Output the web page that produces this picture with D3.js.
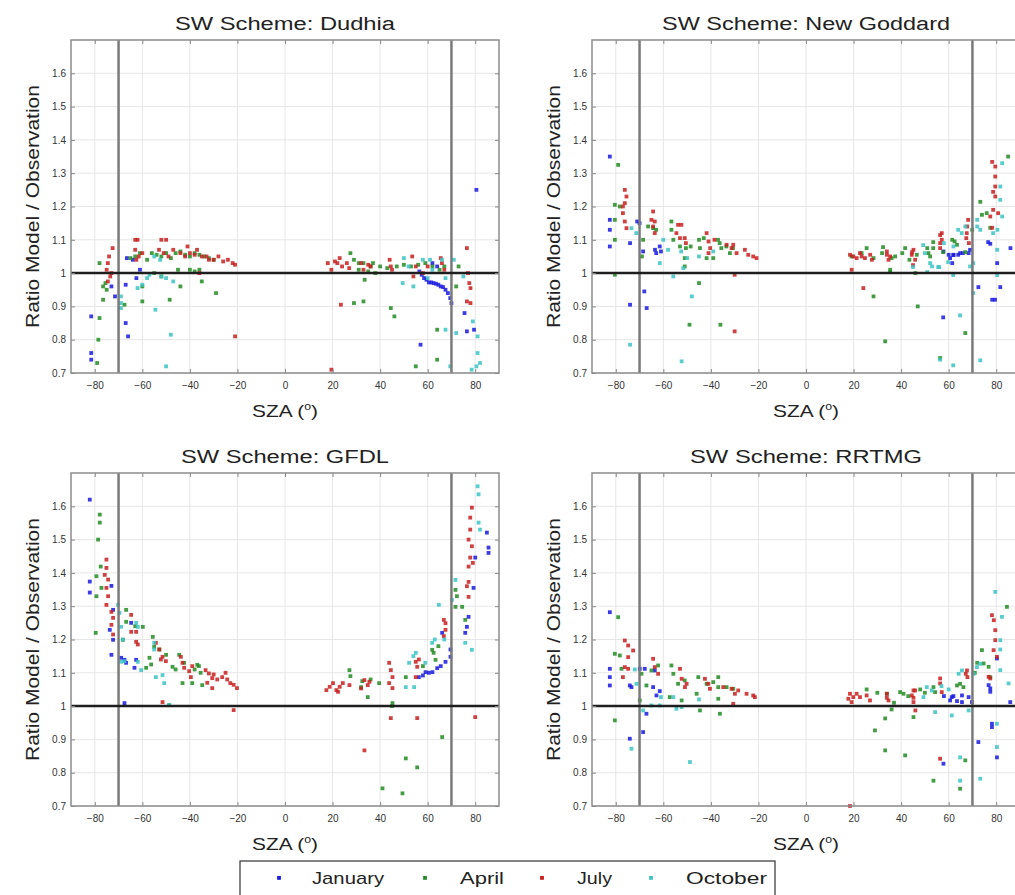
<!DOCTYPE html>
<html>
<head>
<meta charset="utf-8">
<script src="https://cdn.jsdelivr.net/npm/d3@7"></script>
<style>
  body { margin: 0; background: #fff; }
  svg { display: block; overflow: hidden; }
  svg text { font-family: "Liberation Sans", Arial, sans-serif; fill: #222; }
  .tick text { fill: #333; font-size: 10px; }
  .tick line { stroke: #888; }
</style>
</head>
<body>
<svg id="chart" width="1015" height="895"></svg>
<script>
// Months and axis ticks
const months = ["January", "April", "July", "October"];
const xTicks = [-80, -60, -40, -20, 0, 20, 40, 60, 80];
const yTicks = [0.7, 0.8, 0.9, 1, 1.1, 1.2, 1.3, 1.4, 1.5, 1.6];
const szaLimits = [-70, 70];

// [SZA, ratio model / observation]
const dudhiaJan = [[-81.5,0.87],[-81.5,0.76],[-81.5,0.74],[-73,0.96],[-71.5,0.93],[-67,0.965],[-67,0.85],[-66,0.81],[-62.5,0.985],[-61,1.01],[-66.5,1.045],[-64,1.04],[56.5,1.005],[57.5,0.995],[58.5,0.985],[59.5,0.98],[60.5,0.972],[61.5,0.972],[62.5,0.97],[63.5,0.968],[64.5,0.965],[65.5,0.96],[66.5,0.958],[67.5,0.95],[68.5,0.94],[69.5,0.925],[70,0.91],[57,0.785],[75.5,0.88],[76.5,0.825],[79.5,0.83],[80.5,1.25],[64,1.02],[62,1.03]];
const dudhiaApr = [[-79,0.73],[-78,0.865],[-78.5,0.8],[-76.5,0.96],[-76.5,0.92],[-78,1.03],[-75.5,0.97],[-75,0.95],[-67.5,0.905],[-60,0.915],[-60,0.96],[-65,1.045],[-63,1.05],[-61,1.06],[-58,1.04],[-56,1.06],[-54,1.055],[-52,1.05],[-50,1.06],[-48,1.045],[-46,1.06],[-44,1.065],[-42,1.055],[-40,1.05],[-38,1.06],[-36,1.055],[-34,1.05],[-32,1.045],[-30,1.04],[-44,0.96],[-35,0.975],[-29,0.94],[-48.5,0.92],[-45,1.01],[-40,1.01],[-38,1.005],[-36,1.01],[-55,1.0],[-52,0.99],[27.5,1.06],[31,1.01],[33.5,0.98],[33,0.915],[44.5,0.895],[46,0.87],[29,1.04],[33,1.03],[36,1.02],[40,1.02],[43,1.015],[47,1.02],[50,1.025],[53,1.02],[56,1.025],[59,1.03],[62,1.02],[65,1.01],[67,1.02],[55,0.72],[64,0.83],[64,0.74],[72,0.96],[73,1.02],[37,1.03],[31,1.03],[35,1.005],[38,1.0],[29,0.91]];
const dudhiaJul = [[-72.5,1.075],[-74,1.05],[-74.5,1.03],[-73,1.0],[-74.5,0.975],[-73.5,0.99],[-75,1.01],[-63,1.1],[-62,1.1],[-63,1.07],[-61.5,1.05],[-60,1.06],[-62.5,1.04],[-53,1.07],[-52,1.1],[-50,1.1],[-51,1.06],[-49,1.05],[-41,1.08],[-40,1.06],[-38,1.055],[-37,1.07],[-35,1.05],[-33,1.05],[-32,1.04],[-30,1.04],[-28,1.05],[-26,1.035],[-24,1.04],[-22,1.03],[-21,1.025],[-44,1.06],[-42,1.05],[-47,1.07],[-21,0.81],[-36,1.0],[18,1.03],[19.5,1.01],[21,1.035],[22,1.03],[23,1.045],[24,1.02],[26,1.03],[27,1.015],[32,1.03],[33,1.01],[35,1.025],[36,1.02],[44,1.04],[44.5,1.02],[45,1.01],[53.5,1.05],[54,0.99],[55,1.02],[65.5,1.045],[66,1.03],[67,1.01],[76.5,1.075],[77,1.0],[77.5,0.97],[78,0.955],[76.5,0.915],[78,0.91],[19.5,0.71],[23.5,0.905],[58,1.0],[60,1.02]];
const dudhiaOct = [[-69,0.91],[-69,0.93],[-69,0.895],[-54.5,0.89],[-48,0.815],[-50,0.72],[-58,0.985],[-57,0.995],[-52,0.99],[-50,0.985],[-47,0.975],[-60,0.965],[-62,0.955],[-55,1.05],[-52.5,1.04],[50,1.045],[52,1.02],[54,0.96],[49.5,0.97],[58,1.04],[60,0.985],[61,1.04],[67.5,0.985],[69.5,0.72],[71,1.04],[78.5,0.71],[80.5,0.72],[79,0.855],[81,0.81],[81,0.76],[82,0.73],[67.5,0.83],[72,0.82],[62,1.01],[66,1.04],[75,0.99]];

const goddardJan = [[-82.5,1.35],[-82.5,1.16],[-82.5,1.13],[-82.5,1.08],[-74,1.09],[-74,0.905],[-68,0.945],[-67,0.895],[-68.5,1.065],[-63.5,1.07],[-61.5,1.08],[-61,1.065],[-63,1.06],[-71,1.155],[-70,1.15],[57.8,1.065],[60,1.055],[62,1.055],[64,1.055],[66,1.06],[68.4,1.06],[60.6,1.045],[62,1.054],[64.8,1.06],[69,1.07],[61.5,1.03],[57.7,0.867],[72.5,0.958],[76.6,1.093],[77.5,1.088],[78.3,0.92],[79.5,0.92],[80.4,1.03],[81.7,0.958],[86,1.075]];
const goddardApr = [[-79,1.325],[-80.4,1.205],[-78.3,1.2],[-80.4,1.16],[-80.4,1.1],[-80.4,0.995],[-68.5,1.1],[-69,1.05],[-66.4,1.14],[-64.3,1.135],[-63,1.13],[-56.6,1.155],[-56.6,1.13],[-55.8,1.1],[-53,1.08],[-51,1.045],[-50.5,1.075],[-48.5,1.08],[-45,1.1],[-44.6,1.075],[-43,1.105],[-41.8,1.045],[-39,1.045],[-37,1.1],[-36.3,1.09],[-35.6,1.075],[-33.5,1.08],[-32,1.06],[-30.7,1.075],[-45,0.97],[-49,0.845],[-36,0.845],[-51,1.02],[19.2,1.05],[23.4,1.06],[25.5,1.075],[28.4,1.045],[32,1.06],[36,1.045],[35.4,1.01],[37.5,1.05],[40.5,1.06],[41.7,1.075],[43.5,1.04],[46.6,1.055],[28.4,0.93],[33.3,0.795],[47,0.9],[46,1.0],[56.4,0.745],[51.5,1.06],[53.5,1.075],[32.4,1.078],[51,1.075],[52.2,1.05],[53.5,1.093],[61.5,1.1],[62.5,1.095],[63.5,1.085],[69.9,1.13],[73.3,1.214],[74,1.175],[76,1.18],[77.5,1.136],[85,1.35],[67,0.82],[35.4,1.003],[57.7,1.063],[67,1.063]];
const goddardJul = [[-76.2,1.25],[-75.5,1.23],[-76.2,1.21],[-77,1.18],[-76.2,1.155],[-75.5,1.135],[-77,1.2],[-64.3,1.185],[-65,1.16],[-64.3,1.14],[-63.6,1.12],[-63.6,1.155],[-53.8,1.145],[-52.4,1.145],[-54.5,1.12],[-53,1.105],[-51,1.105],[-50.5,1.09],[-41.8,1.12],[-41,1.095],[-40.3,1.075],[-41,1.06],[-38.5,1.1],[-33.4,1.085],[-31.3,1.075],[-30.6,1.085],[-29.2,1.06],[-25.7,1.07],[-24.3,1.055],[-22.2,1.05],[-20.8,1.045],[-30,0.995],[-30,0.825],[18.5,1.055],[19.2,1.01],[19.9,1.05],[21.3,1.045],[22.7,1.06],[23.4,1.05],[24.8,1.045],[27,1.055],[27.7,1.04],[34,1.055],[34.7,1.04],[35.4,1.05],[44.5,1.055],[45.2,1.07],[45.9,1.04],[56.4,1.075],[57.1,1.12],[57.1,1.1],[24.1,0.955],[56.4,1.114],[56.4,1.09],[68.2,1.16],[67.8,1.14],[67.6,1.12],[67.4,1.105],[68.5,1.09],[78.3,1.334],[79.6,1.32],[79.6,1.29],[79.6,1.26],[78.7,1.244],[79.6,1.23],[78.7,1.19],[77.5,1.17],[80.8,1.18],[78.3,1.136],[44.6,1.063],[45,1.024],[34,1.065]];
const goddardOct = [[-74,0.785],[-73.4,1.135],[-71.4,1.12],[-61.5,1.03],[-55.8,0.99],[-51.6,1.015],[-48,0.93],[-52.3,0.735],[-50,1.045],[-39,1.065],[-52.5,1.065],[-45,1.05],[-58,1.07],[-60,1.1],[49.3,1.084],[50,1.06],[52.2,1.03],[55.6,1.018],[51,1.003],[59.8,1.033],[61.9,0.994],[64,1.13],[65.5,1.12],[67,1.14],[72,1.14],[73.3,1.13],[72,1.16],[70.3,1.03],[69,1.02],[82.5,1.33],[81.7,1.26],[81.7,1.22],[82.5,1.17],[80.5,1.13],[78.7,1.12],[80.4,1.07],[80.4,0.994],[64.8,0.873],[61.9,0.723],[73.3,0.738],[70.3,0.94],[45,1.018],[56,1.018],[56.4,0.74],[53,1.02],[58,1.09],[62,1.08]];

const gfdlJan = [[-82.1,1.62],[-82.1,1.374],[-82.1,1.341],[-73,1.361],[-73.7,1.229],[-72.3,1.199],[-73,1.154],[-68.9,1.145],[-67.5,1.139],[-66.8,1.13],[-62.6,1.139],[-63.3,1.115],[-67.5,1.009],[-64.7,1.25],[-72.3,1.289],[59.1,1.102],[60.5,1.1],[62,1.102],[64,1.114],[65.5,1.12],[67.5,1.133],[69.6,1.148],[69.6,1.17],[66.1,1.22],[84.9,1.521],[85.6,1.476],[85.6,1.46],[79.3,1.355],[80,1.446],[77.2,1.268],[76.5,1.238],[75.8,1.22],[56.3,1.087],[58,1.092]];
const gfdlApr = [[-77.9,1.575],[-77.9,1.551],[-78.6,1.5],[-77.5,1.419],[-79.3,1.39],[-77.2,1.355],[-79.3,1.33],[-79.6,1.22],[-66.8,1.289],[-66.8,1.253],[-68.2,1.199],[-63,1.24],[-59.8,1.238],[-55.6,1.208],[-55,1.178],[-52.8,1.17],[-57,1.145],[-56.3,1.125],[-50,1.154],[-47.3,1.118],[-46,1.11],[-44.5,1.154],[-42.4,1.13],[-43.1,1.069],[-39,1.069],[-36.9,1.124],[-36.2,1.12],[-35.5,1.1],[-34.8,1.063],[-38,1.11],[-48.7,1.003],[-58.4,1.115],[27.1,1.108],[27.5,1.09],[32,1.057],[32.5,1.075],[39.6,1.069],[34.8,1.027],[45.2,1.009],[50.8,1.087],[61.9,1.169],[62.5,1.16],[63.3,1.139],[64.5,1.18],[71.7,1.349],[72.3,1.33],[71.7,1.298],[74.5,1.298],[75.8,1.259],[66.1,0.907],[50.8,0.843],[55.6,0.816],[41,0.753],[49.4,0.738],[45,1.0],[36,1.08],[58,1.12]];
const gfdlJul = [[-75.1,1.44],[-75.1,1.415],[-75.8,1.394],[-74.4,1.38],[-75.1,1.355],[-74.4,1.33],[-75.1,1.304],[-73,1.283],[-72.3,1.265],[-73,1.244],[-72.3,1.215],[-64.7,1.274],[-64.7,1.223],[-62.6,1.223],[-62.6,1.193],[-61.9,1.185],[-54.3,1.19],[-52.9,1.17],[-51.5,1.148],[-50.1,1.135],[-52.2,1.14],[-43.8,1.148],[-43.1,1.13],[-42.4,1.115],[-40.3,1.105],[-39.6,1.087],[-39,1.12],[-33.4,1.108],[-32,1.098],[-30.6,1.084],[-30,1.095],[-28.5,1.08],[-26.4,1.087],[-25,1.1],[-24.3,1.08],[-23,1.069],[-21.6,1.064],[-20.2,1.054],[-51.5,1.012],[-21.6,0.988],[-30.6,1.054],[-32.7,1.07],[18.8,1.058],[20.2,1.069],[21.6,1.048],[23,1.058],[22.3,1.043],[17.4,1.048],[24.3,1.069],[27.1,1.063],[33.4,1.078],[34.8,1.063],[32,1.053],[35.5,1.073],[43.8,1.13],[44.5,1.108],[45.2,1.087],[43.8,1.069],[45.2,1.054],[55,1.133],[55.6,1.118],[55,1.087],[56.3,1.14],[66.8,1.259],[67.5,1.249],[67.5,1.229],[66.8,1.21],[77.9,1.566],[78.6,1.596],[77.2,1.5],[78.6,1.48],[77.9,1.446],[77.2,1.419],[79,1.43],[77.2,1.373],[76.5,1.36],[77.2,1.328],[77.9,1.53],[80,0.967],[44.5,0.964],[55.6,0.964],[33.4,0.867]];
const gfdlOct = [[-70.2,1.304],[-69.6,1.28],[-68.9,1.238],[-62.6,1.25],[-61.9,1.238],[-68.2,1.2],[-68.9,1.133],[-67.5,1.135],[-61.9,1.133],[-60.5,1.108],[-55,1.19],[-55,1.17],[-51.5,1.093],[-50.8,1.069],[-54.3,1.087],[-48.7,1.003],[81.4,1.636],[81.4,1.551],[82,1.53],[81,1.66],[71.7,1.379],[70.2,1.319],[64.7,1.304],[61.9,1.19],[63,1.2],[55,1.16],[52.2,1.13],[54,1.15],[50.8,1.057],[54.3,1.057],[75.8,1.19],[78.6,1.169],[67,1.2],[59,1.13]];

const rrtmgJan = [[-82.5,1.282],[-82.5,1.112],[-82.5,1.087],[-82.5,1.062],[-74.1,1.062],[-73.4,1.057],[-74.1,0.902],[-68.5,0.922],[-67.1,0.977],[-64.3,1.057],[-62.9,1.032],[-61.5,1.045],[-69.9,1.112],[-67.8,1.112],[-63.6,1.107],[60.6,1.017],[61.3,1.027],[63.5,1.015],[65.6,1.032],[65.6,1.012],[68.4,1.027],[69.8,1.012],[77.5,1.053],[77.5,1.043],[76.8,1.063],[80.3,1.143],[85.9,1.012],[78.2,0.947],[78.2,0.937],[72.5,0.892],[57.8,0.827],[80.3,0.846],[58,1.03],[62,1.03]];
const rrtmgApr = [[-79,1.267],[-80.4,1.157],[-78.3,1.152],[-77.6,1.112],[-80.4,0.957],[-69.2,1.097],[-67.1,1.062],[-69.9,1.017],[-65,1.107],[-62.2,1.122],[-56.6,1.122],[-55.8,1.097],[-53.8,1.067],[-52.3,1.017],[-51,1.077],[-45.3,1.087],[-46,1.037],[-44.6,0.987],[-41.8,1.067],[-39,1.072],[-36.9,1.057],[-36.9,1.022],[-36.2,0.977],[-33.4,1.057],[-30.6,1.052],[-36.9,1.087],[-57.3,1.027],[34,1.037],[39.6,1.042],[41,1.037],[45.2,0.967],[33.3,0.963],[33.3,0.867],[41.7,0.852],[53.6,1.057],[54.3,1.042],[53.6,0.776],[63.5,1.062],[64.8,1.067],[66.2,1.057],[74,1.168],[74.7,1.128],[76.8,1.118],[77.5,1.087],[84.5,1.298],[64.8,0.752],[67,0.837],[29,0.927],[37,1.01],[36,0.99],[30,1.04],[25.5,1.05],[43,1.03],[48,1.05],[50,1.04],[71,1.1],[72,1.13]];
const rrtmgJul = [[-76.2,1.197],[-74.8,1.182],[-74.8,1.147],[-76.2,1.117],[-77,1.087],[-74.8,1.112],[-72.7,1.167],[-64.3,1.142],[-63.6,1.117],[-62.2,1.097],[-53,1.112],[-52.3,1.082],[-50.2,1.067],[-50.9,1.057],[-42.5,1.082],[-41.1,1.067],[-40.4,1.052],[-34.8,1.057],[-31.3,1.052],[-29.9,1.037],[-28.5,1.047],[-25,1.037],[-22.2,1.032],[-21.5,1.027],[-30.6,1.007],[17.8,1.022],[18.5,1.037],[19.9,1.027],[19.2,1.012],[21.3,1.037],[22.7,1.027],[25.5,1.032],[26.9,1.017],[34,1.037],[34.7,1.017],[44.5,1.032],[45.2,1.012],[46,0.987],[45.9,1.047],[18.5,0.7],[34,1.025],[45.2,1.047],[56.4,1.083],[56.4,1.068],[57.1,1.042],[67.7,1.107],[67.9,1.087],[67.2,1.097],[78.2,1.273],[79,1.258],[79.6,1.228],[79.6,1.198],[78.9,1.168],[80.3,1.148],[77.5,1.083],[76.8,1.088],[56.4,0.842],[45.2,1.025]];
const rrtmgOct = [[-73.4,0.872],[-68.5,0.987],[-65,1.002],[-61.5,1.002],[-55.8,1.027],[-52.3,0.997],[-48.8,0.832],[-54.5,0.992],[-61,1.027],[-71.3,1.067],[-72,1.11],[-45,1.02],[79.6,1.343],[82.4,1.268],[81.7,1.198],[81.7,1.17],[81.7,1.108],[85.2,1.068],[65.6,1.107],[64.2,1.097],[71.9,1.117],[73.3,1.127],[70.5,1.097],[50.8,1.057],[52.9,1.047],[54.3,0.982],[49.4,1.027],[61.3,0.972],[68.4,0.987],[80.3,0.877],[64.8,0.776],[73.3,0.782],[64.8,0.846],[80.3,0.947],[57,1.06],[60,1.05]];

// Colours of the four months (January, April, July, October)
const monthColors = ["#1a1ae0", "#238c23", "#c82020", "#3cc4c4"];

const panels = [
  { title: "SW Scheme: Dudhia",      titleLen: 220, left: 71,  top: 40,  series: [dudhiaJan, dudhiaApr, dudhiaJul, dudhiaOct] },
  { title: "SW Scheme: New Goddard", titleLen: 288, left: 592, top: 40,  series: [goddardJan, goddardApr, goddardJul, goddardOct] },
  { title: "SW Scheme: GFDL",        titleLen: 208, left: 71,  top: 473, series: [gfdlJan, gfdlApr, gfdlJul, gfdlOct] },
  { title: "SW Scheme: RRTMG",       titleLen: 232, left: 592, top: 473, series: [rrtmgJan, rrtmgApr, rrtmgJul, rrtmgOct] }
];

const svg = d3.select("#chart");
const width = 428, height = 333;

panels.forEach(drawPanel);
drawLegend();

/*
  Draw one scheme panel: grid, points, reference lines, axes and labels
*/
function drawPanel(p) {
  const x = d3.scaleLinear().domain([-90, 90]).range([p.left, p.left + width]);
  const y = d3.scaleLinear().domain([0.7, 1.7]).range([p.top + height, p.top]);
  const g = svg.append("g");

  // grid
  g.append("g").selectAll("line")
    .data(xTicks).join("line")
      .attr("x1", d => x(d)).attr("x2", d => x(d))
      .attr("y1", p.top).attr("y2", p.top + height)
      .attr("stroke", "#e6e6e6");
  g.append("g").selectAll("line")
    .data(yTicks).join("line")
      .attr("x1", p.left).attr("x2", p.left + width)
      .attr("y1", d => y(d)).attr("y2", d => y(d))
      .attr("stroke", "#e6e6e6");

  // points, one group per month
  p.series.forEach(function(pts, i) {
    g.append("g").selectAll("rect")
      .data(pts).join("rect")
        .attr("x", d => x(d[0]) - 1.9)
        .attr("y", d => y(d[1]) - 1.9)
        .attr("width", 3.8)
        .attr("height", 3.8)
        .attr("fill", monthColors[i])
        .attr("opacity", 0.85);
  });

  // SZA limit lines and ratio = 1 line
  g.append("g").selectAll("line")
    .data(szaLimits).join("line")
      .attr("x1", d => x(d)).attr("x2", d => x(d))
      .attr("y1", p.top).attr("y2", p.top + height)
      .attr("stroke", "#7a7a7a").attr("stroke-width", 2.5);
  g.append("line")
    .attr("x1", p.left).attr("x2", p.left + width)
    .attr("y1", y(1)).attr("y2", y(1))
    .attr("stroke", "#1e1e1e").attr("stroke-width", 2.5);

  // axes (ticks pointing inward)
  const fmtY = d3.format("~g");
  g.append("g")
    .attr("transform", "translate(0," + (p.top + height) + ")")
    .call(d3.axisBottom(x).tickValues(xTicks).tickSize(-4).tickPadding(9))
    .call(a => a.select(".domain").remove());
  g.append("g")
    .attr("transform", "translate(0," + p.top + ")")
    .call(d3.axisTop(x).tickValues(xTicks).tickSize(-4).tickFormat(""))
    .call(a => a.select(".domain").remove());
  g.append("g")
    .attr("transform", "translate(" + p.left + ",0)")
    .call(d3.axisLeft(y).tickValues(yTicks).tickSize(-4).tickPadding(5).tickFormat(fmtY))
    .call(a => a.select(".domain").remove());
  g.append("g")
    .attr("transform", "translate(" + (p.left + width) + ",0)")
    .call(d3.axisRight(y).tickValues(yTicks).tickSize(-4).tickFormat(""))
    .call(a => a.select(".domain").remove());

  // box
  g.append("rect")
    .attr("x", p.left).attr("y", p.top)
    .attr("width", width).attr("height", height)
    .attr("fill", "none").attr("stroke", "#8c8c8c").attr("stroke-width", 1.5);

  // title
  g.append("text")
    .attr("x", p.left + width / 2).attr("y", p.top - 10)
    .attr("text-anchor", "middle")
    .attr("font-size", 18)
    .attr("textLength", p.titleLen).attr("lengthAdjust", "spacingAndGlyphs")
    .text(p.title);

  // x label
  const xl = g.append("text")
    .attr("x", p.left + width / 2).attr("y", p.top + height + 44)
    .attr("text-anchor", "middle")
    .attr("font-size", 17)
    .attr("textLength", 66).attr("lengthAdjust", "spacingAndGlyphs");
  xl.append("tspan").text("SZA (");
  xl.append("tspan").attr("font-size", 10).attr("dy", -7).text("o");
  xl.append("tspan").attr("dy", 7).text(")");

  // y label
  g.append("text")
    .attr("transform", "translate(" + (p.left - 32) + "," + (p.top + height / 2) + ") rotate(-90)")
    .attr("text-anchor", "middle")
    .attr("font-size", 18)
    .attr("textLength", 243).attr("lengthAdjust", "spacingAndGlyphs")
    .text("Ratio Model / Observation");
}

/*
  Legend box under the panels
*/
function drawLegend() {
  const lg = svg.append("g");
  lg.append("rect")
    .attr("x", 240).attr("y", 861)
    .attr("width", 535).attr("height", 45)
    .attr("fill", "#fff").attr("stroke", "#333").attr("stroke-width", 1.2);

  const markX = [279, 425, 542, 651];
  const textX = [312, 460, 577, 686];
  const textLen = [72, 44, 35, 81];

  lg.selectAll(".mark")
    .data(months).join("rect")
      .attr("x", (d, i) => markX[i] - 1.9)
      .attr("y", 876)
      .attr("width", 3.8).attr("height", 3.8)
      .attr("fill", (d, i) => monthColors[i]);

  lg.selectAll(".label")
    .data(months).join("text")
      .attr("x", (d, i) => textX[i])
      .attr("y", 884)
      .attr("font-size", 17)
      .attr("textLength", (d, i) => textLen[i])
      .attr("lengthAdjust", "spacingAndGlyphs")
      .text(d => d);
}
</script>
</body>
</html>
